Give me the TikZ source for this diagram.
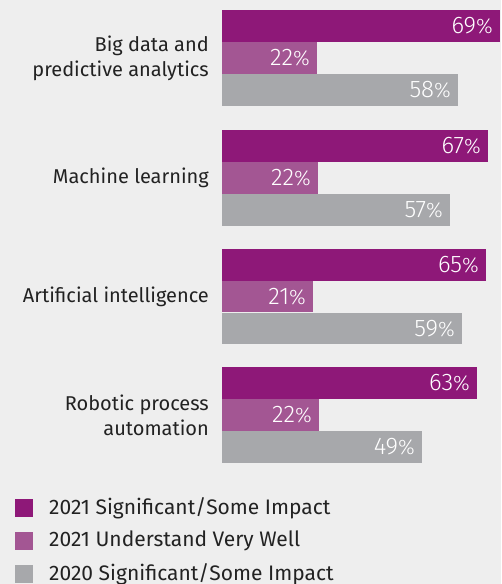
\documentclass[tikz,border=0pt]{standalone}
\usepackage{fontspec}
\setmainfont{Fira Sans}
\newfontfamily\lightf{Fira Sans Light}
\definecolor{bgc}{HTML}{EEEEEE}
\definecolor{cA}{HTML}{8E1878}
\definecolor{cB}{HTML}{A35693}
\definecolor{cC}{HTML}{A7A8AB}
\definecolor{txt}{HTML}{222222}
\newcommand\pc{{\fontsize{21}{21}\selectfont\%}}
\tikzset{
  val/.style={anchor=east, text=white, inner sep=0pt, font=\lightf\fontsize{24}{24}\selectfont},
  cat/.style={anchor=east, text=txt, align=right, inner sep=0pt, font=\fontsize{20}{25}\selectfont},
  leg/.style={anchor=west, text=txt, inner sep=0pt, font=\fontsize{21}{24}\selectfont},
}
\begin{document}
\begin{tikzpicture}[x=1pt,y=-1pt]
\fill[bgc] (0,0) rectangle (501,584);
\useasboundingbox (0,0) rectangle (501,584);
% group 1
\fill[cA] (222,10) rectangle (500,42);
\fill[cB] (222,42) rectangle (317,74);
\fill[cC] (222,74) rectangle (458,106);
\node[val] (v11) at (493,26) {69\pc};
\node[val] (v12) at (310,58) {22\pc};
\node[val] (v13) at (451,90) {58\pc};
\node[cat] (c1) at (209,58) {Big data and\\predictive analytics};
% group 2
\fill[cA] (222,130) rectangle (488,162);
\fill[cB] (222,162) rectangle (318,194);
\fill[cC] (222,194) rectangle (450,226);
\node[val] (v21) at (481,146) {67\pc};
\node[val] (v22) at (311,178) {22\pc};
\node[val] (v23) at (443,210) {57\pc};
\node[cat] (c2) at (209,178) {Machine learning};
% group 3
\fill[cA] (222,249) rectangle (486,281);
\fill[cB] (222,281) rectangle (313,312);
\fill[cC] (222,313) rectangle (462,344);
\node[val] (v31) at (479,265) {65\pc};
\node[val] (v32) at (306,297) {21\pc};
\node[val] (v33) at (455,329) {59\pc};
\node[cat] (c3) at (209,297) {Artificial intelligence};
% group 4
\fill[cA] (222,367) rectangle (477,399);
\fill[cB] (222,399) rectangle (319,431);
\fill[cC] (222,431) rectangle (422,463);
\node[val] (v41) at (470,383) {63\pc};
\node[val] (v42) at (312,415) {22\pc};
\node[val] (v43) at (415,447) {49\pc};
\node[cat] (c4) at (209,415) {Robotic process\\automation};
% legend
\fill[cA] (15,499) rectangle (33,517);
\fill[cB] (15,532) rectangle (33,550);
\fill[cC] (15,565) rectangle (33,583);
\node[leg] (l1) at (49,508) {2021 Significant/Some Impact};
\node[leg] (l2) at (49,541) {2021 Understand Very Well};
\node[leg] (l3) at (49,574) {2020 Significant/Some Impact};
\end{tikzpicture}
\end{document}
